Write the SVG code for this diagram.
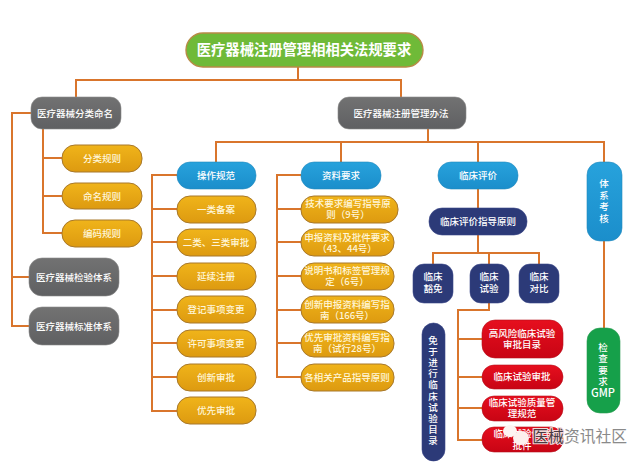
<svg xmlns="http://www.w3.org/2000/svg" width="642" height="469" viewBox="0 0 642 469">
<defs>
<linearGradient id="gO" x1="0" y1="0" x2="0" y2="1"><stop offset="0" stop-color="#f0b41a"/><stop offset="1" stop-color="#dd9a10"/></linearGradient>
<linearGradient id="gG" x1="0" y1="0" x2="0" y2="1"><stop offset="0" stop-color="#727272"/><stop offset="1" stop-color="#5f6062"/></linearGradient>
<linearGradient id="gB" x1="0" y1="0" x2="0" y2="1"><stop offset="0" stop-color="#27a2dc"/><stop offset="1" stop-color="#1b8ecb"/></linearGradient>
<linearGradient id="gR" x1="0" y1="0" x2="0" y2="1"><stop offset="0" stop-color="#e60f1e"/><stop offset="1" stop-color="#c80414"/></linearGradient>
</defs>
<style>
text{font-family:"Noto Sans CJK SC","Liberation Sans",sans-serif;fill:#fff;text-anchor:middle;font-weight:500;font-size:9.5px}
.c{fill:none;stroke:#d9752c;stroke-width:2}
.o{fill:url(#gO);stroke:#a8782a;stroke-width:1}
.g{fill:url(#gG);stroke:#8a8a8a;stroke-width:.6}
.b{fill:url(#gB);stroke:#2389bd;stroke-width:.6}
.n{fill:#2c3a78;stroke:#3a4788;stroke-width:.6}
.r{fill:url(#gR);stroke:#b5101c;stroke-width:.6}
.o~text{fill:#fff6d8}
</style>
<rect width="642" height="469" fill="#fff"/>
<g id="connectors">
<path class="c" d="M298 67V80M76 97V80H401V97"/>
<path class="c" d="M31 113H12V326H29M12 277H29"/>
<path class="c" d="M43 129V233H62M43 158H62M43 196H62"/>
<path class="c" d="M428 129V142M216 162V142H604V162M341 142V162M478 142V208"/>
<path class="c" d="M177 175H152V411H177M152 209H177M152 242H177M152 276H177M152 310H177M152 343H177M152 377H177"/>
<path class="c" d="M301 175H277V377H301M277 209H301M277 242H301M277 276H301M277 310H301M277 343H301"/>
<path class="c" d="M478 235V253M433 264V253H539V264M489 253V264"/>
<path class="c" d="M489 303V310H458V440H482M458 339H482M458 377H482M458 408H482"/>
<path class="c" d="M604 241V328"/>
</g>
<g id="root"><rect x="186" y="33" width="237" height="34" rx="17" fill="#6fba38" stroke="#b88a45" stroke-width="1.4"/><text x="304" y="54.5" style="font-size:14.3px;font-weight:700">医疗器械注册管理相相关法规要求</text></g>
<g id="n-fenlei"><rect class="g" x="31" y="97" width="90" height="32" rx="11"/><text x="75" y="116.5">医疗器械分类命名</text></g>
<g id="n-banfa"><rect class="g" x="338" y="97" width="128" height="32" rx="11"/><text x="401" y="116.5">医疗器械注册管理办法</text></g>
<g id="n-a1"><rect class="o" x="62" y="145" width="80" height="27" rx="13"/><text x="102" y="161.5">分类规则</text></g>
<g id="n-a2"><rect class="o" x="62" y="183" width="80" height="26" rx="13"/><text x="102" y="199.5">命名规则</text></g>
<g id="n-a3"><rect class="o" x="62" y="220" width="80" height="27" rx="13"/><text x="102" y="236.5">编码规则</text></g>
<g id="n-jianyan"><rect class="g" x="29" y="258" width="90" height="38" rx="13"/><text x="74" y="280.5">医疗器械检验体系</text></g>
<g id="n-biaozhun"><rect class="g" x="29" y="307" width="90" height="38" rx="13"/><text x="74" y="329.5">医疗器械标准体系</text></g>
<g id="n-caozuo"><rect class="b" x="177" y="162" width="79" height="27" rx="13"/><text x="216" y="178.5">操作规范</text></g>
<g id="n-b1"><rect class="o" x="177" y="196" width="79" height="27" rx="13"/><text x="216" y="212.5">一类备案</text></g>
<g id="n-b2"><rect class="o" x="177" y="229" width="79" height="27" rx="13"/><text x="216" y="245.5">二类、三类审批</text></g>
<g id="n-b3"><rect class="o" x="177" y="263" width="79" height="27" rx="13"/><text x="216" y="279.5">延续注册</text></g>
<g id="n-b4"><rect class="o" x="177" y="296" width="79" height="27" rx="13"/><text x="216" y="312.5">登记事项变更</text></g>
<g id="n-b5"><rect class="o" x="177" y="330" width="79" height="27" rx="13"/><text x="216" y="346.5">许可事项变更</text></g>
<g id="n-b6"><rect class="o" x="177" y="364" width="79" height="27" rx="13"/><text x="216" y="380.5">创新审批</text></g>
<g id="n-b7"><rect class="o" x="177" y="397" width="79" height="27" rx="13"/><text x="216" y="413.5">优先审批</text></g>
<g id="n-ziliao"><rect class="b" x="301" y="162" width="80" height="27" rx="13"/><text x="341" y="178.5">资料要求</text></g>
<g id="n-c1"><rect class="o" x="301" y="196" width="97" height="27" rx="13"/><text x="348" y="206.5">技术要求编写指导原</text><text x="348" y="217.5">则（9号）</text></g>
<g id="n-c2"><rect class="o" x="301" y="229" width="93" height="27" rx="13"/><text x="347" y="240.5">申报资料及批件要求</text><text x="347" y="251.5">（43、44号）</text></g>
<g id="n-c3"><rect class="o" x="301" y="263" width="93" height="27" rx="13"/><text x="347" y="273.5">说明书和标签管理规</text><text x="347" y="284.5">定（6号）</text></g>
<g id="n-c4"><rect class="o" x="301" y="296" width="93" height="27" rx="13"/><text x="347" y="307.5">创新申报资料编写指</text><text x="347" y="318.5">南（166号）</text></g>
<g id="n-c5"><rect class="o" x="301" y="330" width="93" height="27" rx="13"/><text x="347" y="340.5">优先审批资料编写指</text><text x="347" y="352">南（试行28号）</text></g>
<g id="n-c6"><rect class="o" x="301" y="364" width="93" height="27" rx="13"/><text x="347" y="380.5">各相关产品指导原则</text></g>
<g id="n-linchuang"><rect class="b" x="438" y="162" width="80" height="27" rx="13"/><text x="478" y="178.5">临床评价</text></g>
<g id="n-yuanze"><rect class="n" x="429" y="208" width="98" height="27" rx="13"/><text x="478" y="224.5">临床评价指导原则</text></g>
<g id="n-d1"><rect class="n" x="413" y="264" width="40" height="39" rx="11"/><text x="433" y="279.5">临床</text><text x="433" y="291.5">豁免</text></g>
<g id="n-d2"><rect class="n" x="470" y="264" width="39" height="39" rx="11"/><text x="489" y="279.5">临床</text><text x="489" y="291.5">试验</text></g>
<g id="n-d3"><rect class="n" x="519" y="264" width="40" height="39" rx="11"/><text x="539" y="279.5">临床</text><text x="539" y="291.5">对比</text></g>
<g id="n-mian"><rect class="n" x="422" y="323" width="23" height="138" rx="11.5"/>
<text x="433" y="343.5">免</text><text x="433" y="354.7">于</text><text x="433" y="365.9">进</text><text x="433" y="377.1">行</text><text x="433" y="388.3">临</text><text x="433" y="399.5">床</text><text x="433" y="410.7">试</text><text x="433" y="421.9">验</text><text x="433" y="433.1">目</text><text x="433" y="444.3">录</text></g>
<g id="n-e1"><rect class="r" x="482" y="320" width="81" height="38" rx="13"/><text x="522" y="336.5">高风险临床试验</text><text x="522" y="347.5">审批目录</text></g>
<g id="n-e2"><rect class="r" x="482" y="365" width="81" height="24" rx="12"/><text x="522" y="379.5">临床试验审批</text></g>
<g id="n-e3"><rect class="r" x="482" y="396" width="81" height="25" rx="12"/><text x="522" y="405.5">临床试验质量管</text><text x="522" y="416.5">理规范</text></g>
<g id="n-e4"><rect class="r" x="482" y="427" width="81" height="25" rx="12"/><text x="522" y="436.5">临床试验伦理</text><text x="522" y="449">批件</text></g>
<g id="n-tixi"><rect class="b" x="587" y="162" width="35" height="79" rx="13"/><text x="604" y="186.5">体</text><text x="604" y="198.5">系</text><text x="604" y="210">考</text><text x="604" y="221.5">核</text></g>
<g id="n-gmp"><rect x="587" y="328" width="33" height="85" rx="13" fill="#16a04a" stroke="#2a9c50" stroke-width=".6"/><text x="603" y="350.5">检</text><text x="603" y="362">查</text><text x="603" y="373.5">要</text><text x="603" y="385">求</text><text x="603" y="396.5" style="font-size:11px">GMP</text></g>
<g id="watermark"><ellipse cx="510" cy="431" rx="7" ry="6" fill="#fdf4f2"/><ellipse cx="521" cy="438" rx="8" ry="7" fill="#fdf0ee"/>
<text x="548" y="442" stroke="#f3d6d8" stroke-width="2" paint-order="stroke" style="font-size:15.8px;font-weight:400;fill:#4a3a42">医械</text><text x="595.5" y="442" style="font-size:15.8px;font-weight:400;fill:#8a8a8a">资讯社区</text></g>
</svg>
